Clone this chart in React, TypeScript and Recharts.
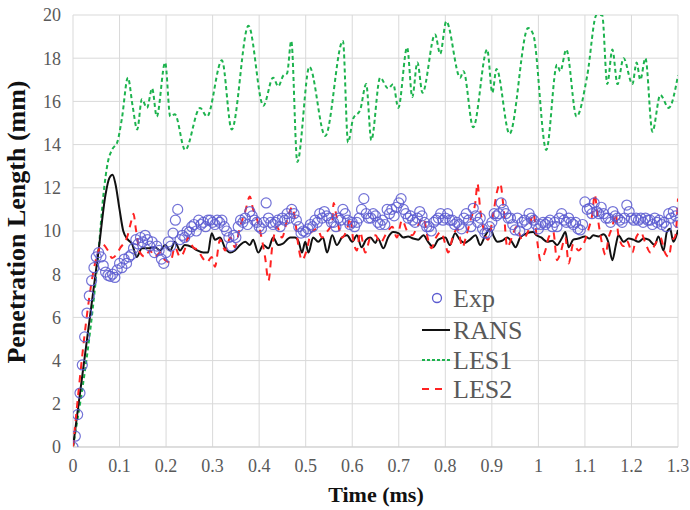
import { ComposedChart, Line, XAxis, YAxis, CartesianGrid } from 'recharts';

const xTicks = [0, 0.1, 0.2, 0.3, 0.4, 0.5, 0.6, 0.7, 0.8, 0.9, 1, 1.1, 1.2, 1.3];
const yTicks = [0, 2, 4, 6, 8, 10, 12, 14, 16, 18, 20];

// experiment: one sample every 0.005 ms
const expStep = 0.005;
const expValues = [
  0, 0.5, 1.5, 2.5, 3.8, 5.1, 6.2, 7.0, 7.7, 8.3, 8.8, 9.0, 8.8, 8.4, 8.1, 7.95, 7.9, 8.0, 7.85, 8.2,
  8.5, 8.3, 8.7, 8.5, 8.8, 8.9, 9.2, 9.6, 9.4, 9.7, 9.5, 9.8, 9.6, 9.3, 9.5, 9.0, 9.3, 9.1, 8.7, 8.5,
  9.0, 9.5, 9.3, 9.9, 10.5, 11.0, 9.6, 9.8, 9.7, 10.0, 9.95, 10.2, 10.3, 10.0, 10.5, 10.3, 10.4, 10.2, 10.5, 10.5,
  10.4, 10.3, 10.5, 10.4, 10.5, 10.2, 10.0, 9.7, 9.3, 9.8, 9.7, 10.2, 10.5, 10.4, 10.6, 10.3, 10.9, 10.7, 10.5, 10.4,
  10.2, 10.1, 10.4, 11.3, 10.6, 10.4, 10.3, 10.4, 10.5, 10.2, 10.6, 10.5, 10.8, 10.6, 11.0, 10.8, 10.5, 10.2, 9.9, 10.0,
  9.95, 10.1, 10.3, 10.2, 10.5, 10.4, 10.8, 10.6, 10.9, 10.7, 10.6, 10.4, 10.4, 10.2, 10.6, 10.5, 11.0, 10.8, 10.5, 10.3,
  10.4, 10.2, 10.4, 10.6, 11.0, 11.5, 10.8, 10.6, 10.6, 10.8, 10.7, 10.4, 10.3, 10.5, 10.3, 11.0, 10.8, 11.0, 10.7, 11.1,
  11.3, 11.5, 11.0, 10.8, 10.6, 10.7, 10.5, 10.4, 10.6, 10.9, 10.7, 10.4, 10.2, 10.2, 10.0, 10.4, 10.5, 10.6, 10.8, 10.5,
  10.6, 10.8, 10.5, 10.5, 10.3, 10.4, 10.3, 10.1, 10.6, 10.8, 10.5, 10.2, 11.05, 10.7, 10.4, 10.6, 10.1, 9.9, 9.9, 10.2,
  10.4, 10.8, 10.7, 10.8, 11.3, 11.0, 10.8, 10.6, 10.6, 10.3, 10.05, 10.6, 10.0, 10.4, 10.5, 10.3, 10.8, 10.6, 10.5, 10.3,
  10.1, 10.3, 10.4, 10.3, 10.4, 10.5, 10.2, 10.4, 10.2, 10.6, 10.8, 10.5, 10.4, 10.6, 10.4, 10.3, 10.4, 10.1, 10.05, 10.3,
  11.35, 11.0, 11.05, 10.8, 11.3, 10.9, 10.8, 11.1, 10.8, 10.6, 10.6, 10.4, 10.9, 10.7, 10.6, 10.5, 10.4, 10.6, 11.2, 10.9,
  10.6, 10.5, 10.6, 10.5, 10.6, 10.4, 10.6, 10.5, 10.5, 10.3, 10.6, 10.4, 10.5, 10.3, 10.4, 10.2, 10.8, 10.6, 10.9, 10.7, 10.4,
];

// [time (ms), length (mm)]
const rans: [number, number][] = [
  [0, 0], [0.055, 9.1], [0.07, 11.7], [0.078, 12.45], [0.085, 12.6], [0.091, 12.2], [0.1, 11.0], [0.108, 10.0],
  [0.118, 9.6], [0.127, 9.4], [0.137, 8.8], [0.148, 9.2], [0.161, 9.2], [0.176, 9.25], [0.187, 9.1], [0.198, 9.35],
  [0.209, 9.1], [0.219, 9.5], [0.23, 9.1], [0.24, 9.35], [0.256, 9.25], [0.267, 9.1], [0.28, 9.0], [0.29, 9.0],
  [0.298, 9.9], [0.305, 9.6], [0.316, 9.7], [0.327, 9.2], [0.338, 9.0], [0.348, 9.1], [0.359, 9.35], [0.37, 9.5],
  [0.38, 9.35], [0.387, 9.6], [0.398, 9.0], [0.409, 9.35], [0.42, 9.2], [0.43, 9.7], [0.441, 9.35], [0.45, 9.4],
  [0.467, 9.7], [0.477, 9.7], [0.485, 9.5], [0.492, 9.0], [0.499, 9.5], [0.506, 9.0], [0.516, 9.7], [0.527, 9.5],
  [0.537, 9.7], [0.546, 9.0], [0.557, 9.8], [0.567, 9.35], [0.578, 9.7], [0.589, 9.8], [0.6, 9.5], [0.61, 9.8],
  [0.62, 9.25], [0.63, 9.6], [0.639, 9.7], [0.65, 9.45], [0.655, 9.65], [0.667, 9.2], [0.677, 9.7], [0.688, 9.95],
  [0.699, 9.9], [0.71, 9.7], [0.72, 9.75], [0.731, 9.65], [0.742, 9.6], [0.753, 9.8], [0.763, 9.5], [0.774, 9.25],
  [0.785, 9.6], [0.8, 9.7], [0.81, 9.35], [0.821, 9.9], [0.831, 9.6], [0.842, 9.45], [0.853, 9.6], [0.865, 9.8],
  [0.875, 9.35], [0.886, 9.8], [0.897, 10.1], [0.904, 9.75], [0.912, 9.5], [0.922, 9.55], [0.933, 9.7], [0.943, 9.5],
  [0.951, 9.25], [0.961, 9.7], [0.976, 9.9], [0.989, 9.95], [0.996, 9.8], [1.006, 9.7], [1.019, 9.5], [1.03, 9.55],
  [1.04, 9.35], [1.05, 9.65], [1.058, 9.95], [1.065, 9.25], [1.075, 9.6], [1.086, 9.65], [1.1, 9.75], [1.11, 9.65],
  [1.118, 9.8], [1.129, 9.75], [1.14, 9.85], [1.15, 9.5], [1.159, 8.65], [1.166, 9.3], [1.172, 9.8], [1.183, 9.5],
  [1.194, 9.65], [1.204, 9.6], [1.215, 9.5], [1.226, 9.65], [1.237, 9.6], [1.25, 9.35], [1.258, 9.75], [1.269, 9.1],
  [1.276, 9.95], [1.283, 10.1], [1.29, 9.5], [1.3, 10.05],
];

const les1: [number, number][] = [
  [0, 0], [0.055, 9.1], [0.065, 11.6], [0.075, 13.2], [0.085, 13.8], [0.095, 14.1], [0.105, 15.2], [0.118, 17.1],
  [0.128, 15.8], [0.138, 14.7], [0.148, 16.1], [0.159, 15.7], [0.17, 16.6], [0.18, 15.3], [0.198, 17.8], [0.209, 15.3],
  [0.219, 15.4], [0.241, 13.75], [0.273, 15.7], [0.288, 15.3], [0.32, 17.9], [0.341, 14.7], [0.377, 19.5], [0.409, 15.8],
  [0.43, 17.1], [0.441, 16.7], [0.452, 17.2], [0.46, 17.3], [0.469, 18.8], [0.482, 13.2], [0.508, 17.6], [0.542, 14.4],
  [0.58, 18.8], [0.591, 14.1], [0.602, 15.2], [0.617, 15.6], [0.63, 16.8], [0.641, 14.2], [0.66, 17.1], [0.677, 16.6],
  [0.688, 16.8], [0.699, 15.7], [0.718, 18.5], [0.729, 16.2], [0.74, 17.8], [0.751, 16.4], [0.778, 19.1], [0.789, 18.2],
  [0.802, 19.7], [0.832, 17.1], [0.839, 17.4], [0.86, 14.8], [0.89, 18.4], [0.901, 16.4], [0.91, 17.5], [0.938, 14.5],
  [0.978, 19.4], [0.989, 19.1], [1.017, 13.75], [1.04, 17.7], [1.047, 17.4], [1.06, 18.4], [1.082, 15.3], [1.105, 17.2],
  [1.125, 20.0], [1.137, 20.0], [1.148, 16.8], [1.159, 18.4], [1.17, 16.8], [1.183, 18.0], [1.202, 16.8], [1.211, 17.8],
  [1.219, 17.0], [1.23, 18.0], [1.245, 14.6], [1.262, 16.3], [1.28, 15.7], [1.3, 17.2],
];

const les2: [number, number][] = [
  [0, 0], [0.055, 9.1], [0.062, 9.4], [0.075, 9.1], [0.084, 8.75], [0.093, 8.9], [0.101, 9.2], [0.116, 9.7],
  [0.127, 10.6], [0.13, 10.8], [0.135, 10.1], [0.144, 9.0], [0.155, 8.8], [0.165, 9.1], [0.176, 8.8], [0.187, 9.0],
  [0.198, 8.65], [0.209, 8.55], [0.219, 9.25], [0.23, 8.8], [0.241, 9.2], [0.247, 9.7], [0.258, 9.25], [0.269, 9.1],
  [0.277, 8.8], [0.288, 8.55], [0.298, 8.8], [0.305, 8.35], [0.316, 9.6], [0.327, 9.1], [0.338, 9.7], [0.348, 9.25],
  [0.359, 10.2], [0.37, 10.9], [0.38, 11.6], [0.387, 11.0], [0.396, 10.5], [0.405, 9.7], [0.413, 8.75], [0.42, 7.7],
  [0.428, 9.25], [0.438, 10.2], [0.449, 9.7], [0.46, 10.5], [0.471, 11.1], [0.478, 10.4], [0.484, 9.35], [0.492, 8.65],
  [0.502, 9.1], [0.512, 9.95], [0.525, 10.1], [0.535, 9.7], [0.545, 9.95], [0.557, 10.4], [0.56, 11.3], [0.566, 10.7],
  [0.578, 9.7], [0.589, 10.1], [0.596, 10.6], [0.602, 9.6], [0.61, 9.1], [0.617, 9.95], [0.628, 9.0], [0.639, 9.7],
  [0.65, 9.8], [0.66, 9.45], [0.675, 9.95], [0.686, 10.2], [0.696, 9.7], [0.707, 10.5], [0.718, 10.0], [0.729, 9.8],
  [0.74, 10.2], [0.753, 10.6], [0.763, 9.6], [0.77, 9.2], [0.78, 9.7], [0.79, 9.95], [0.8, 9.4], [0.806, 9.0],
  [0.817, 9.8], [0.826, 10.1], [0.837, 9.25], [0.844, 9.7], [0.854, 10.5], [0.865, 11.4], [0.869, 12.2], [0.875, 11.0],
  [0.882, 10.1], [0.892, 9.6], [0.903, 10.8], [0.912, 11.9], [0.918, 12.2], [0.925, 11.1], [0.933, 9.25], [0.943, 9.7],
  [0.953, 10.2], [0.965, 9.6], [0.979, 10.05], [0.989, 10.8], [0.998, 9.45], [1.004, 8.65], [1.015, 9.1], [1.022, 9.7],
  [1.032, 9.95], [1.04, 8.65], [1.047, 8.95], [1.058, 9.7], [1.065, 8.5], [1.075, 9.4], [1.086, 9.1], [1.097, 9.4],
  [1.108, 10.1], [1.116, 10.8], [1.121, 11.7], [1.127, 10.7], [1.137, 9.4], [1.144, 8.9], [1.151, 9.7], [1.159, 10.2],
  [1.166, 10.8], [1.172, 9.8], [1.183, 9.3], [1.19, 9.55], [1.202, 9.0], [1.21, 9.7], [1.22, 9.95], [1.229, 9.5],
  [1.241, 9.0], [1.25, 9.35], [1.262, 9.7], [1.272, 9.0], [1.28, 8.8], [1.287, 9.55], [1.294, 9.75], [1.3, 11.5],
];

const serif = "'Liberation Serif', 'Times New Roman', serif";
const tickStyle = { fill: '#595959', fontSize: 18, fontFamily: serif };

const toRows = (pts: [number, number][]) => pts.map(([t, v]) => ({ t, v }));
const expData = expValues.map((v, i) => ({ t: Number((i * expStep).toFixed(3)), v }));

function LegendBox() {
  const rowY = [18, 50, 80, 109];
  return (
    <g transform="translate(418,280)" fontFamily={serif} fontSize={26} fill="#595959">
      <circle cx={19} cy={rowY[0]} r={4.5} fill="none" stroke="#5b5bd0" strokeWidth={1.3} />
      <text x={35} y={rowY[0]} dy="0.35em">Exp</text>
      <line x1={4} x2={32} y1={rowY[1]} y2={rowY[1]} stroke="#111" strokeWidth={2} />
      <text x={35} y={rowY[1]} dy="0.35em">RANS</text>
      <line x1={4} x2={32} y1={rowY[2]} y2={rowY[2]} stroke="#1db34e" strokeWidth={2} strokeDasharray="3 2" />
      <text x={35} y={rowY[2]} dy="0.35em">LES1</text>
      <line x1={4} x2={28} y1={rowY[3]} y2={rowY[3]} stroke="#f22" strokeWidth={2} strokeDasharray="7 6" />
      <text x={35} y={rowY[3]} dy="0.35em">LES2</text>
    </g>
  );
}

export default function App() {
  return (
    <div style={{ position: 'absolute', left: 0, top: 0, width: 690, height: 510, background: '#fff' }}>
      <ComposedChart width={690} height={510} margin={{ top: 15, right: 12, bottom: 33, left: 0 }}>
        <CartesianGrid stroke="#d9d9d9" />
        <XAxis
          type="number"
          dataKey="t"
          domain={[0, 1.3]}
          ticks={xTicks}
          interval={0}
          height={30}
          tickLine={false}
          axisLine={{ stroke: '#cfcfcf' }}
          tick={tickStyle}
          tickMargin={6}
          tickFormatter={(v: number) => String(v)}
          allowDataOverflow
        />
        <YAxis
          type="number"
          domain={[0, 20]}
          ticks={yTicks}
          interval={0}
          width={73}
          axisLine={false}
          tickLine={false}
          tick={tickStyle}
          tickMargin={6}
          allowDataOverflow
        />
        <Line
          data={expData}
          dataKey="v"
          stroke="none"
          dot={{ r: 5, fill: 'none', stroke: '#5b5bd0', strokeWidth: 1.2, strokeOpacity: 0.85 }}
          activeDot={false}
          isAnimationActive={false}
        />
        <Line
          data={toRows(les1)}
          dataKey="v"
          type="monotone"
          stroke="#1db34e"
          strokeWidth={2}
          strokeDasharray="4 3"
          dot={false}
          activeDot={false}
          isAnimationActive={false}
        />
        <Line
          data={toRows(rans)}
          dataKey="v"
          type="monotone"
          stroke="#111"
          strokeWidth={2}
          dot={false}
          activeDot={false}
          isAnimationActive={false}
        />
        <Line
          data={toRows(les2)}
          dataKey="v"
          type="monotone"
          stroke="#f22"
          strokeWidth={2}
          strokeDasharray="7 6"
          dot={false}
          activeDot={false}
          isAnimationActive={false}
        />
      </ComposedChart>
      <svg width={690} height={510} style={{ position: 'absolute', left: 0, top: 0, pointerEvents: 'none' }}>
        <text
          transform="translate(25,222) rotate(-90)"
          textAnchor="middle"
          fontFamily={serif}
          fontWeight="bold"
          fontSize={26}
          fill="#111"
        >
          Penetration Length (mm)
        </text>
        <text x={376} y={502} textAnchor="middle" fontFamily={serif} fontWeight="bold" fontSize={22} fill="#111">
          Time (ms)
        </text>
        <LegendBox />
      </svg>
    </div>
  );
}
